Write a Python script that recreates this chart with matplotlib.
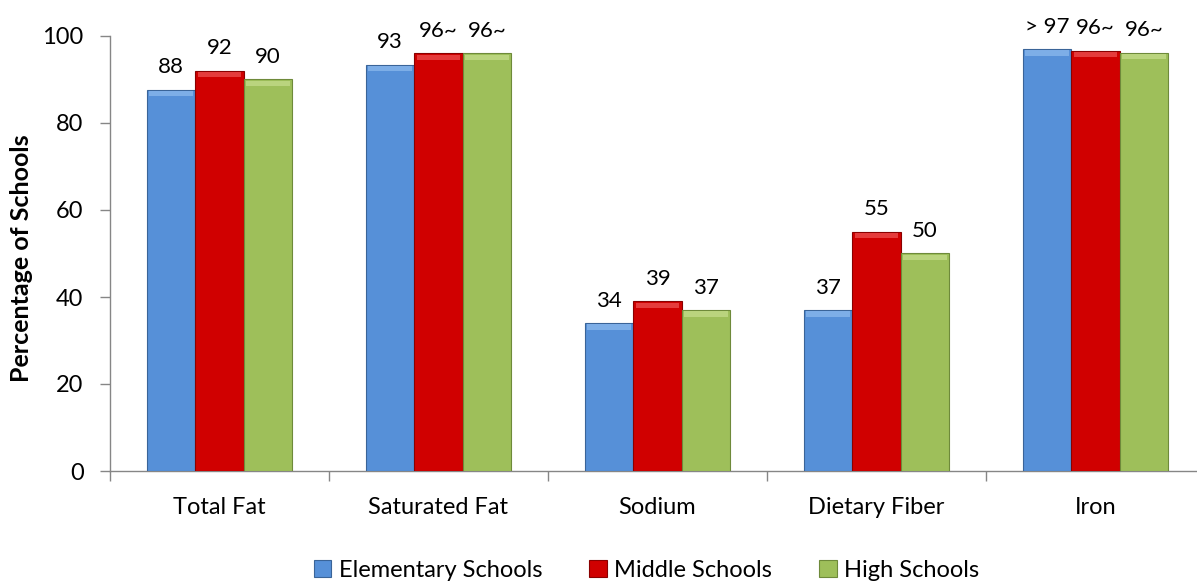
import numpy as np
import matplotlib
matplotlib.use("Agg")
import matplotlib.pyplot as plt
from matplotlib.patches import Rectangle

plt.rcParams["font.family"] = ["Lato", "DejaVu Sans"]

categories = ["Total Fat", "Saturated Fat", "Sodium", "Dietary Fiber", "Iron"]
series = ["Elementary Schools", "Middle Schools", "High Schools"]

elementary = [87.6, 93.4, 34, 37, 97.0]
middle = [92, 96, 39, 55, 96.6]
high = [90, 96, 37, 50, 96.1]

elementary_labels = ["88", "93", "34", "37", "> 97"]
middle_labels = ["92", "96~", "39", "55", "96~"]
high_labels = ["90", "96~", "37", "50", "96~"]

colors = ["#5690D8", "#D00000", "#9EBF5A"]
edges = ["#3A6498", "#8A0000", "#6E8A3A"]
lights = ["#8FBCEE", "#EE5555", "#C6DE8E"]

FS = 17

W, H = 1197, 587
fig = plt.figure(figsize=(W / 100, H / 100), dpi=100)
ax = fig.add_axes([110 / W, 116 / H, 1095 / W, 435 / H])

x = np.arange(len(categories))
bw = 0.222
data = [elementary, middle, high]
labels = [elementary_labels, middle_labels, high_labels]

for i, (vals, labs) in enumerate(zip(data, labels)):
    pos = x + (i - 1) * bw
    bars = ax.bar(pos, vals, width=bw, color=colors[i], edgecolor=edges[i],
                  linewidth=0.8, label=series[i], zorder=3)
    for b, v, lab in zip(bars, vals, labs):
        # small bevel highlight at the top of each bar
        ax.add_patch(Rectangle((b.get_x() + 0.012, v - 1.5), bw - 0.024, 1.2,
                               facecolor=lights[i], edgecolor="none",
                               alpha=0.7, zorder=4))
        ax.annotate(lab, (b.get_x() + bw / 2, v), xytext=(0, 9),
                    textcoords="offset points", ha="center", va="bottom",
                    fontsize=16, color="#000000")

ax.set_xlim(-0.5, len(categories) - 0.5)
ax.set_ylim(0, 100)
ax.set_yticks(np.arange(0, 101, 20))
ax.set_xticks(np.arange(-0.5, len(categories)), minor=False)
ax.set_xticklabels([])
ax.set_xticks(x, minor=True)
ax.set_xticklabels(categories, minor=True)
ax.tick_params(axis="x", which="major", length=7, color="#868686", width=1)
ax.tick_params(axis="x", which="minor", length=0, pad=19, labelsize=FS)
ax.tick_params(axis="y", length=7, color="#868686", width=1, pad=12, labelsize=FS)

for s in ["top", "right"]:
    ax.spines[s].set_visible(False)
for s in ["left", "bottom"]:
    ax.spines[s].set_color("#868686")
    ax.spines[s].set_linewidth(1)

ax.set_ylabel("Percentage of Schools", fontsize=18, fontweight="bold")
ax.yaxis.set_label_coords(-0.070, 0.49)

fig.legend(loc="lower center", bbox_to_anchor=(0.54, -0.026), ncol=3,
           frameon=False, fontsize=FS, handlelength=0.75, handleheight=0.75,
           handletextpad=0.3, columnspacing=2.0)

fig.savefig("out.png", dpi=100)
